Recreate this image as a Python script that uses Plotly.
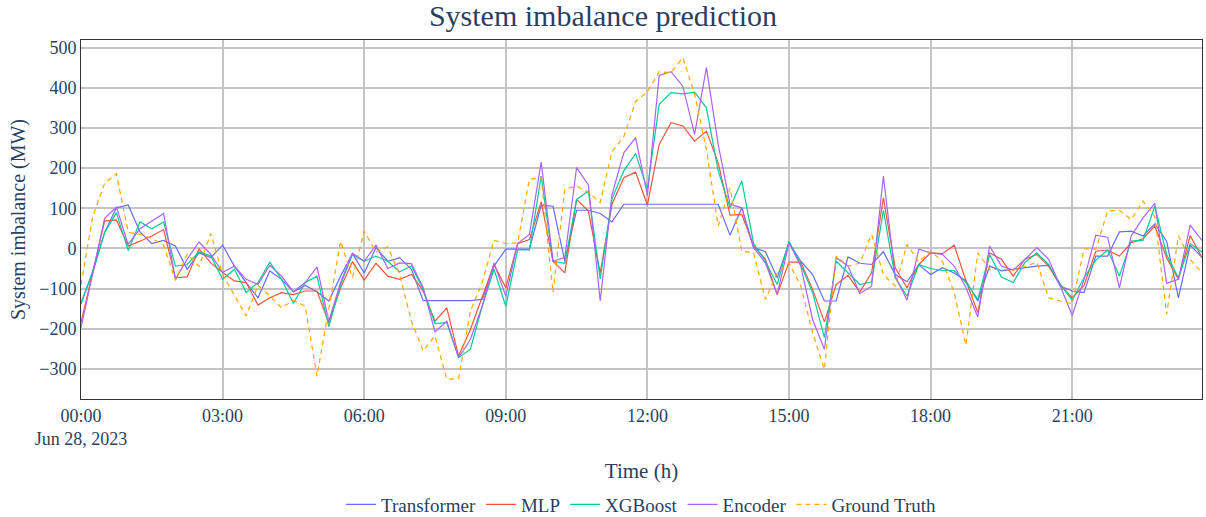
import pandas as pd
import plotly.graph_objects as go

times = pd.date_range("2023-06-28 00:00", periods=96, freq="15min")

transformer = [-135, -60, 40, 101, 108, 41, 12, 20, 6, -52, -11, -23, 8, -44, -85, -123,
               -56, -77, -108, -92, -108, -131, -69, -13, -61, 2, -32, -23, -52, -130, -130, -130,
               -130, -130, -127, -44, -2, -2, -2, 108, 105, -32, 95, 95, 87, 66,
               110, 110, 110, 110, 110, 110, 110, 110, 110, 33, 101, 2, -8, -73, 14, -32,
               -65, -131, -131, -21, -37, -40, -8, -65, -83, -41, -65, -48, -61, -81, -131, -44,
               -56, -52, -48, -44, -42, -94, -106, -110, -19, -19, 41, 43, 31, 61, 18, -123, 8, -22]

mlp = [-185, -60, 68, 71, 6, 18, 31, 47, -73, -71, -1, -36, -60, -81, -85, -141,
       -123, -110, -115, -106, -106, -185, -98, -33, -79, -37, -69, -77, -65, -106, -181, -148,
       -268, -202, -119, -40, -98, 12, 22, 116, -32, -61, 122, 93, -61, 110,
       176, 190, 108, 259, 313, 305, 267, 292, 213, 83, 85, 6, -27, -115, -34, -34,
       -102, -183, -90, -67, -109, -61, 126, -48, -98, -40, -11, -13, 8, -81, -160, -11,
       -27, -69, -27, -15, -44, -90, -123, -92, -7, -4, -19, 14, 24, 56, -23, -77, 32, -23]

xgboost = [-139, -55, 39, 89, -5, 66, 49, 66, -44, -40, -8, -19, -77, -52, -110, -85,
           -34, -77, -137, -85, -69, -195, -90, -15, -32, -19, -32, -58, -44, -102, -187, -185,
           -272, -251, -144, -52, -144, -4, -4, 180, -32, -37, 122, 143, -76, 124,
           193, 236, 147, 359, 388, 385, 389, 350, 193, 101, 168, 12, -32, -90, 18, -40,
           -110, -222, -32, -61, -90, -83, 95, -73, -119, -40, -50, -55, -55, -85, -127, -15,
           -71, -85, -35, -11, -40, -90, -129, -73, -29, -4, -69, 18, 20, 105, -15, -73, 12, -9]

encoder = [-198, -60, 75, 103, 10, 49, 68, 87, -77, -27, 16, -15, -60, -44, -77, -90,
           -42, -69, -108, -85, -46, -181, -85, -12, -32, 8, -50, -36, -38, -98, -208, -181,
           -272, -227, -144, -36, -119, 12, 35, 215, -32, -23, 201, 158, -131, 134,
           238, 276, 132, 431, 440, 404, 284, 450, 259, 110, 101, 2, -36, -115, 14, -44,
           -177, -251, -23, -44, -112, -94, 180, -69, -129, -2, -11, -15, -44, -98, -171, 6,
           -44, -54, -27, 2, -27, -94, -167, -77, 33, 28, -98, 31, 76, 112, -87, -77, 58, 20]

ground_truth = [-90, 80, 162, 186, 40, 35, 25, 8, -80, -14, -45, 37, -65, -118, -168, -92,
                -118, -148, -129, -144, -318, -150, 18, -73, 43, -9, 4, -65, -181, -255, -218, -326,
                -324, -156, -85, 20, 12, 14, 172, 176, -110, 148, 155, 140, 114, 241,
                278, 366, 390, 440, 438, 475, 385, 246, 56, 151, -7, -11, -127, -61, -36, -94,
                -210, -301, -19, -44, -37, 35, -65, -94, 10, -34, -7, -32, -110, -241, -11, -52,
                -52, -54, -45, -34, -123, -131, -138, -1, -2, 93, 95, 72, 118, 80, -164, 31, -27, -61]

series = [
    ("Transformer", transformer, "#636EFA", "solid"),
    ("MLP", mlp, "#EF553B", "solid"),
    ("XGBoost", xgboost, "#00CC96", "solid"),
    ("Encoder", encoder, "#AB63FA", "solid"),
    ("Ground Truth", ground_truth, "orange", "5px,4px"),
]

fig = go.Figure()
for name, vals, color, dash in series:
    fig.add_trace(go.Scatter(x=times, y=vals, mode="lines", name=name,
                             line=dict(color=color, width=1.2, dash=dash)))

font_family = "Times New Roman, Liberation Serif, serif"
fig.update_layout(
    width=1206, height=517,
    template="plotly",
    paper_bgcolor="white", plot_bgcolor="white",
    font=dict(family=font_family, color="#2a3f5f", size=18),
    title=dict(text="System imbalance prediction", x=0.5, xanchor="center",
               y=0.971, yanchor="middle", font=dict(size=30)),
    margin=dict(l=81, r=4, t=40, b=118),
    legend=dict(orientation="h", x=0.5, xanchor="center",
                yref="container", y=0.024, yanchor="middle",
                font=dict(size=19), traceorder="normal"),
    xaxis=dict(title=dict(text="Time (h)", font=dict(size=21)),
               dtick=3 * 3600 * 1000, tick0="2023-06-28 00:00",
               showgrid=True, gridcolor="#c4c4c4", gridwidth=1.5,
               showline=True, linecolor="#333", linewidth=1, mirror=True,
               zeroline=False, tickfont=dict(size=18), automargin=False),
    yaxis=dict(title=dict(text="System imbalance (MW)", font=dict(size=20), standoff=8),
               range=[-375, 519], dtick=100,
               showgrid=True, gridcolor="#c4c4c4", gridwidth=1.5,
               showline=True, linecolor="#333", linewidth=1, mirror=True,
               zeroline=False, tickfont=dict(size=18), automargin=False),
)

fig.write_html("out.html", config={"displayModeBar": False},
               post_script="document.body.style.margin='0';document.body.style.padding='0';")
